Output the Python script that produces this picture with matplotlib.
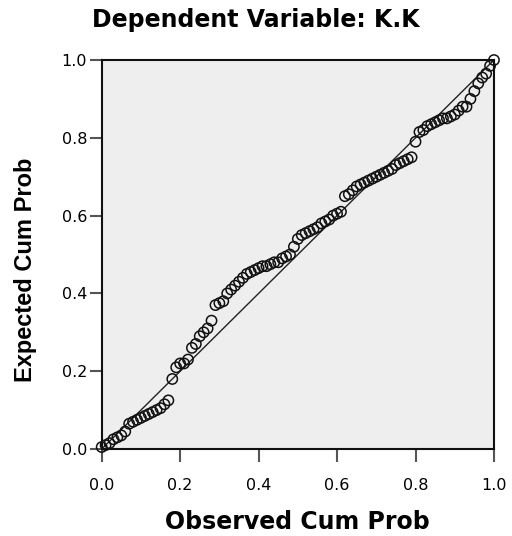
import matplotlib
matplotlib.use("Agg")
import matplotlib.pyplot as plt

# Observed cumulative probability (x) and expected cumulative probability (y)
observed = [0.00, 0.01, 0.02, 0.03, 0.04, 0.05, 0.06, 0.07, 0.08, 0.09,
            0.10, 0.11, 0.12, 0.13, 0.14, 0.15, 0.16, 0.17, 0.18, 0.19,
            0.20, 0.21, 0.22, 0.23, 0.24, 0.25, 0.26, 0.27, 0.28, 0.29,
            0.30, 0.31, 0.32, 0.33, 0.34, 0.35, 0.36, 0.37, 0.38, 0.39,
            0.40, 0.41, 0.42, 0.43, 0.44, 0.45, 0.46, 0.47, 0.48, 0.49,
            0.50, 0.51, 0.52, 0.53, 0.54, 0.55, 0.56, 0.57, 0.58, 0.59,
            0.60, 0.61, 0.62, 0.63, 0.64, 0.65, 0.66, 0.67, 0.68, 0.69,
            0.70, 0.71, 0.72, 0.73, 0.74, 0.75, 0.76, 0.77, 0.78, 0.79,
            0.80, 0.81, 0.82, 0.83, 0.84, 0.85, 0.86, 0.87, 0.88, 0.89,
            0.90, 0.91, 0.92, 0.93, 0.94, 0.95, 0.96, 0.97, 0.98, 0.99, 1.00]
expected = [0.005, 0.010, 0.015, 0.025, 0.030, 0.035, 0.045, 0.065, 0.070, 0.075,
            0.080, 0.085, 0.090, 0.095, 0.100, 0.105, 0.115, 0.125, 0.180, 0.210,
            0.220, 0.220, 0.230, 0.260, 0.270, 0.290, 0.300, 0.310, 0.330, 0.370,
            0.375, 0.380, 0.400, 0.410, 0.420, 0.430, 0.440, 0.450, 0.455, 0.460,
            0.465, 0.470, 0.470, 0.475, 0.480, 0.480, 0.490, 0.495, 0.500, 0.520,
            0.540, 0.550, 0.555, 0.560, 0.565, 0.570, 0.580, 0.585, 0.590, 0.600,
            0.605, 0.610, 0.650, 0.655, 0.665, 0.675, 0.680, 0.685, 0.690, 0.695,
            0.700, 0.705, 0.710, 0.715, 0.720, 0.730, 0.735, 0.740, 0.745, 0.750,
            0.790, 0.815, 0.820, 0.830, 0.835, 0.840, 0.845, 0.850, 0.850, 0.855,
            0.860, 0.870, 0.880, 0.880, 0.900, 0.920, 0.940, 0.955, 0.965, 0.985, 1.000]
ref_line = [0.0, 1.0]
tick_vals = [0.0, 0.2, 0.4, 0.6, 0.8, 1.0]
tick_labels = ["0.0", "0.2", "0.4", "0.6", "0.8", "1.0"]

plt.rcParams['font.family'] = ['DejaVu Sans']

fig = plt.figure(figsize=(5.12, 5.36), dpi=100)
ax = fig.add_axes([0.1986, 0.1623, 0.7662, 0.7257])
ax.set_facecolor('#eeeeee')

ax.plot(ref_line, ref_line, color='#222222', lw=1.0, zorder=2)
ax.scatter(observed, expected, s=55, facecolors='none', edgecolors='#111111',
           linewidths=1.1, zorder=3, clip_on=False)

ax.set_xlim(0, 1)
ax.set_ylim(0, 1)
ax.set_xticks(tick_vals)
ax.set_xticklabels(tick_labels)
ax.set_yticks(tick_vals)
ax.set_yticklabels(tick_labels)
ax.tick_params(axis='both', direction='out', length=9, width=1.5, color='#555555',
               labelsize=11.5)
ax.tick_params(axis='x', pad=12)
ax.tick_params(axis='y', pad=1.5)
for s in ax.spines.values():
    s.set_color('#111111')
    s.set_linewidth(1.5)

fig.text(0.5, 0.962, "Dependent Variable: K.K", ha='center', va='center',
         fontsize=17, fontweight='bold')
fig.text(0.58, 0.026, "Observed Cum Prob", ha='center', va='center',
         fontsize=17, fontweight='bold')
fig.text(0.05, 0.497, "Expected Cum Prob", ha='center', va='center',
         fontsize=17, fontweight='bold', rotation=90, family='Liberation Sans')

fig.savefig("out.png", dpi=100)
